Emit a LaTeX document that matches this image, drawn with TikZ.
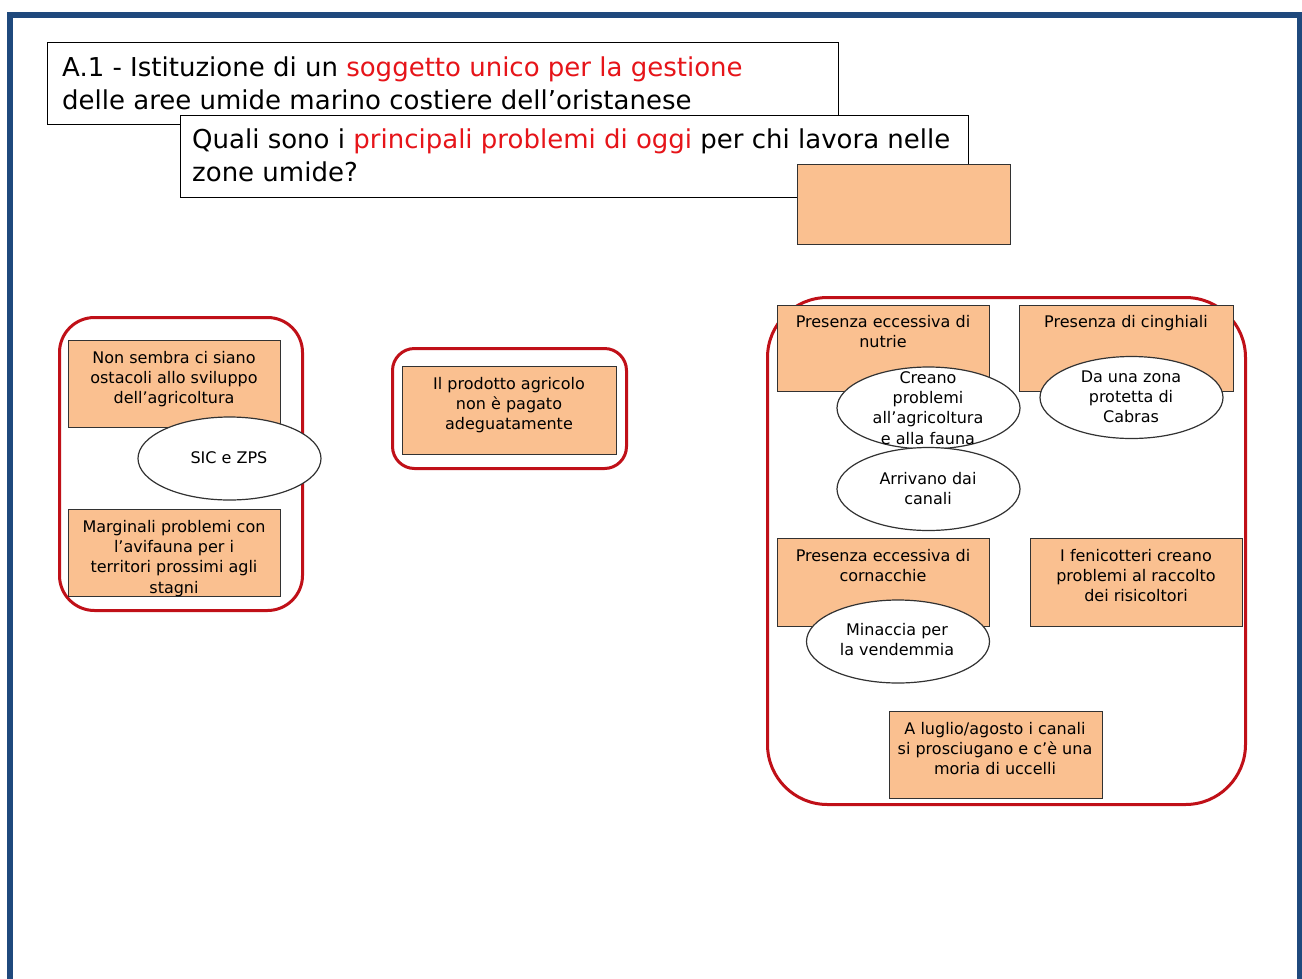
\documentclass[tikz,border=0pt]{standalone}
\usepackage{fontspec}
\setmainfont{DejaVu Sans}
\usetikzlibrary{shapes.geometric}
\definecolor{frameblue}{RGB}{31,73,125}
\definecolor{grpred}{RGB}{192,16,24}
\definecolor{peach}{HTML}{FAC090}
\definecolor{txtred}{RGB}{230,20,25}
\definecolor{edgegray}{RGB}{50,50,50}
\begin{document}
\begin{tikzpicture}[x=1pt,y=-1pt,
  titlebox/.style={draw=black, line width=1.2pt, fill=white, anchor=north west, inner sep=0pt},
  peachbox/.style={draw=edgegray, line width=1.3pt, fill=peach, anchor=north west, inner sep=0pt},
  grp/.style={draw=grpred, line width=3pt, anchor=north west, inner sep=0pt},
  ell/.style={ellipse, draw=edgegray, line width=1.2pt, fill=white, inner sep=0pt},
  ttl/.style={anchor=north west, inner sep=0pt, align=left, font=\fontsize{26}{33.5}\selectfont},
  txt/.style={anchor=north, inner sep=0pt, align=center, font=\fontsize{16}{20.3}\selectfont},
]
\useasboundingbox (0,0) rectangle (1302,978);
\fill[white] (0,0) rectangle (1302,978);
% frame
\draw[frameblue, line width=6pt] (10,1000) -- (10,15) -- (1299.5,15) -- (1299.5,1000);
% title boxes
\node[titlebox, minimum width=791pt, minimum height=82pt] (t1) at (47,42) {};
\node[ttl] (t1txt) at (62,55) {\rule{0pt}{21pt}A.1 - Istituzione di un \textcolor{txtred}{soggetto unico per la gestione}\\delle aree umide marino costiere dell'oristanese};
\node[titlebox, minimum width=788pt, minimum height=82pt] (t2) at (180,115) {};
\node[ttl] (t2txt) at (192,127) {\rule{0pt}{21pt}Quali sono i \textcolor{txtred}{principali problemi di oggi} per chi lavora nelle\\zone umide?};
\node[peachbox, minimum width=213pt, minimum height=80pt] (top) at (797,164) {};
% group frames
\node[grp, rounded corners=35pt, minimum width=243pt, minimum height=293pt] (g1) at (58,316) {};
\node[grp, rounded corners=22pt, minimum width=234pt, minimum height=120pt] (g2) at (391,347) {};
\node[grp, rounded corners=60pt, minimum width=478pt, minimum height=507pt] (g3) at (766,296) {};
% boxes
\node[peachbox, minimum width=212pt, minimum height=87pt] (b1) at (68,340) {};
\node[peachbox, minimum width=212pt, minimum height=87pt] (b2) at (68,509) {};
\node[peachbox, minimum width=214pt, minimum height=88pt] (b3) at (402,366) {};
\node[peachbox, minimum width=212pt, minimum height=86pt] (b4) at (777,305) {};
\node[peachbox, minimum width=214pt, minimum height=86pt] (b5) at (1019,305) {};
\node[peachbox, minimum width=212pt, minimum height=88pt] (b6) at (777,538) {};
\node[peachbox, minimum width=212pt, minimum height=88pt] (b7) at (1030,538) {};
\node[peachbox, minimum width=213pt, minimum height=87pt] (b8) at (889,711) {};
% box texts
\node[txt] (b1t) at (174,350) {\rule{0pt}{13pt}Non sembra ci siano\\ostacoli allo sviluppo\\dell'agricoltura};
\node[txt] (b2t) at (174,519) {\rule{0pt}{13pt}Marginali problemi con\\l'avifauna per i\\territori prossimi agli\\stagni};
\node[txt] (b3t) at (509,376) {\rule{0pt}{13pt}Il prodotto agricolo\\non è pagato\\adeguatamente};
\node[txt] (b4t) at (883,314) {\rule{0pt}{13pt}Presenza eccessiva di\\nutrie};
\node[txt] (b5t) at (1126,314) {\rule{0pt}{13pt}Presenza di cinghiali};
\node[txt] (b6t) at (883,548) {\rule{0pt}{13pt}Presenza eccessiva di\\cornacchie};
\node[txt] (b7t) at (1136,548) {\rule{0pt}{13pt}I fenicotteri creano\\problemi al raccolto\\dei risicoltori};
\node[txt] (b8t) at (995,721) {\rule{0pt}{13pt}A luglio/agosto i canali\\si prosciugano e c'è una\\moria di uccelli};
% ellipses
\node[ell, minimum width=183pt, minimum height=83pt] (e1) at (229.5,458.5) {};
\node[ell, minimum width=183pt, minimum height=82pt] (e2) at (928.5,408) {};
\node[ell, minimum width=183pt, minimum height=82pt] (e3) at (1131.5,397.5) {};
\node[ell, minimum width=183pt, minimum height=83pt] (e4) at (928.5,489) {};
\node[ell, minimum width=183pt, minimum height=83pt] (e5) at (898,641.5) {};
% ellipse texts
\node[txt] (e1t) at (229,450) {\rule{0pt}{13pt}SIC e ZPS};
\node[txt] (e2t) at (928,370) {\rule{0pt}{13pt}Creano\\problemi\\all'agricoltura\\e alla fauna};
\node[txt] (e3t) at (1131,369) {\rule{0pt}{13pt}Da una zona\\protetta di\\Cabras};
\node[txt] (e4t) at (928,471) {\rule{0pt}{13pt}Arrivano dai\\canali};
\node[txt] (e5t) at (897,622) {\rule{0pt}{13pt}Minaccia per\\la vendemmia};
\end{tikzpicture}
\end{document}
